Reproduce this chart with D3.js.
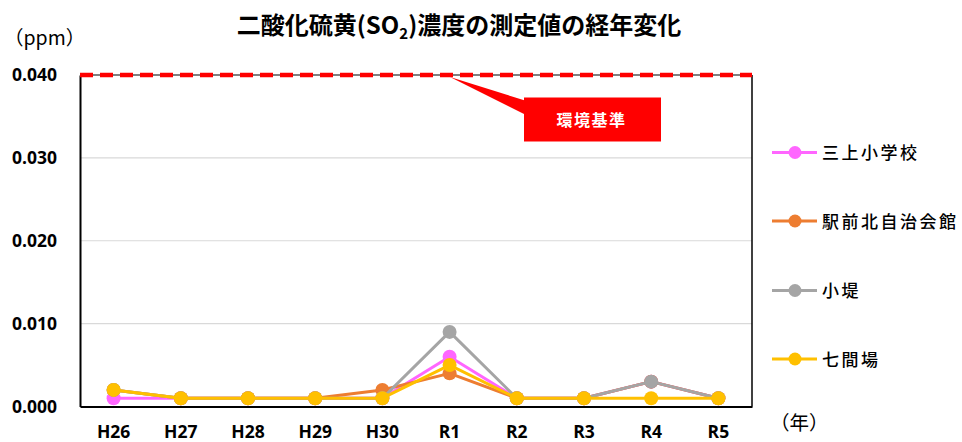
<!DOCTYPE html>
<html><head><meta charset="utf-8">
<script src="https://cdn.jsdelivr.net/npm/d3@7"></script>
<style>
html,body{margin:0;padding:0;background:#fff;}
svg{display:block;}
</style></head>
<body>
<svg id="chart" width="962" height="442"></svg>
<script>
const categories = ["H26","H27","H28","H29","H30","R1","R2","R3","R4","R5"];
const seriesNames = ["三上小学校","駅前北自治会館","小堤","七間場"];
const mikami   = [0.001,0.001,0.001,0.001,0.001,0.006,0.001,0.001,0.003,0.001];
const ekimae   = [0.002,0.001,0.001,0.001,0.002,0.004,0.001,0.001,0.003,0.001];
const kozutsumi= [0.002,0.001,0.001,0.001,0.001,0.009,0.001,0.001,0.003,0.001];
const shichikenba=[0.002,0.001,0.001,0.001,0.001,0.005,0.001,0.001,0.001,0.001];
const seriesColors = ["#FF66FF","#ED7D31","#A5A5A5","#FFC000"];
const yTicks = [0,0.01,0.02,0.03,0.04];
const standardValue = 0.04;
const title = "二酸化硫黄";
const titleRest = "濃度の測定値の経年変化";
const standardLabel = "環境基準";

const series = [mikami, ekimae, kozutsumi, shichikenba];
const svg = d3.select("#chart");
const L = 80, R = 752, T = 75, B = 406.5;

const x = d3.scaleBand().domain(categories).range([L, R]);
const y = d3.scaleLinear().domain([0, 0.04]).range([B, T]);

// gridlines
svg.append("g").selectAll("line").data(yTicks.filter(d => d > 0 && d < 0.04)).join("line")
  .attr("x1", L).attr("x2", R).attr("y1", d => y(d)).attr("y2", d => y(d))
  .attr("stroke", "#D9D9D9").attr("stroke-width", 1.2);

// plot border
svg.append("line").attr("x1", L).attr("x2", R).attr("y1", T).attr("y2", T).attr("stroke", "#000").attr("stroke-width", 1.2);
svg.append("line").attr("x1", R).attr("x2", R).attr("y1", T).attr("y2", B).attr("stroke", "#000").attr("stroke-width", 1.5);

// y axis labels
const fontLat = "'Open Sans', 'Liberation Sans', sans-serif";
const yAxis = d3.axisLeft(y).tickValues(yTicks).tickFormat(d3.format(".3f")).tickSize(0).tickPadding(23);
const gy = svg.append("g").attr("transform", `translate(${L},0)`).call(yAxis);
gy.select(".domain").attr("stroke", "#000").attr("stroke-width", 2);
gy.selectAll("text").attr("font-family", fontLat).attr("font-weight", 700).attr("font-size", 17.5).attr("fill", "#000");

// x axis
const xAxis = d3.axisBottom(x).tickSize(0).tickPadding(19);
const gx = svg.append("g").attr("transform", `translate(0,${B})`).call(xAxis);
gx.select(".domain").attr("stroke", "#000").attr("stroke-width", 2);
gx.selectAll("text").attr("font-family", fontLat).attr("font-weight", 700).attr("font-size", 17.5).attr("fill", "#000");

// standard line (dashed red)
svg.append("line").attr("x1", L).attr("x2", R).attr("y1", y(standardValue)).attr("y2", y(standardValue))
  .attr("stroke", "#FF0000").attr("stroke-width", 4.5).attr("stroke-dasharray", "13,7");

// series
const line = d3.line().x((d, i) => x(categories[i]) + x.bandwidth() / 2).y(d => y(d));
series.forEach((vals, si) => {
  const g = svg.append("g");
  g.append("path").datum(vals).attr("d", line).attr("fill", "none")
    .attr("stroke", seriesColors[si]).attr("stroke-width", 3).attr("stroke-linejoin", "round");
  g.selectAll("circle").data(vals).join("circle")
    .attr("cx", (d, i) => x(categories[i]) + x.bandwidth() / 2).attr("cy", d => y(d))
    .attr("r", 7).attr("fill", seriesColors[si]);
});

// callout
const tipX = 450, tipY = y(standardValue) + 2;
const bx = 524, by = 97.5, bw = 137, bh = 44;
svg.append("path").attr("d", `M${tipX},${tipY} L${bx + 1},${by + 3} L${bx + 1},${by + 17} Z`).attr("fill", "#FF0000");
svg.append("rect").attr("x", bx).attr("y", by).attr("width", bw).attr("height", bh).attr("fill", "#FF0000");
svg.append("text").attr("x", bx + bw / 2 - 1).attr("y", by + bh / 2 + 6).attr("text-anchor", "middle")
  .attr("font-family", "'Noto Sans CJK JP', sans-serif").attr("font-weight", 700).attr("font-size", 16)
  .attr("letter-spacing", 1.5).attr("fill", "#fff").text(standardLabel);

// title
const tt = svg.append("text").attr("x", 459).attr("y", 34).attr("text-anchor", "middle")
  .attr("font-family", "'Noto Sans CJK JP', sans-serif").attr("font-weight", 700).attr("font-size", 24).attr("fill", "#000");
tt.append("tspan").text(title + "(SO");
tt.append("tspan").attr("font-size", 15).attr("dy", 5).text("2");
tt.append("tspan").attr("dy", -5).text(")" + titleRest);

// unit labels
svg.append("text").attr("x", 4).attr("y", 45).attr("font-family", "'Noto Sans CJK JP', sans-serif")
  .attr("font-size", 19.5).attr("fill", "#000").text("（ppm）");
svg.append("text").attr("x", 770).attr("y", 430).attr("font-family", "'Noto Sans CJK JP', sans-serif")
  .attr("font-size", 19.5).attr("fill", "#000").text("（年）");

// legend
const legY = [152.5, 221, 290.5, 359];
seriesNames.forEach((name, i) => {
  const g = svg.append("g").attr("transform", `translate(0,${legY[i]})`);
  g.append("line").attr("x1", 772).attr("x2", 817).attr("y1", 0).attr("y2", 0).attr("stroke", seriesColors[i]).attr("stroke-width", 3);
  g.append("circle").attr("cx", 795).attr("cy", 0).attr("r", 6.5).attr("fill", seriesColors[i]);
  g.append("text").attr("x", 822).attr("y", 6.5).attr("font-family", "'Noto Sans CJK JP', sans-serif")
    .attr("font-size", 17).attr("font-weight", 500).attr("letter-spacing", 2.5).attr("fill", "#000").text(name);
});
</script>
</body></html>
